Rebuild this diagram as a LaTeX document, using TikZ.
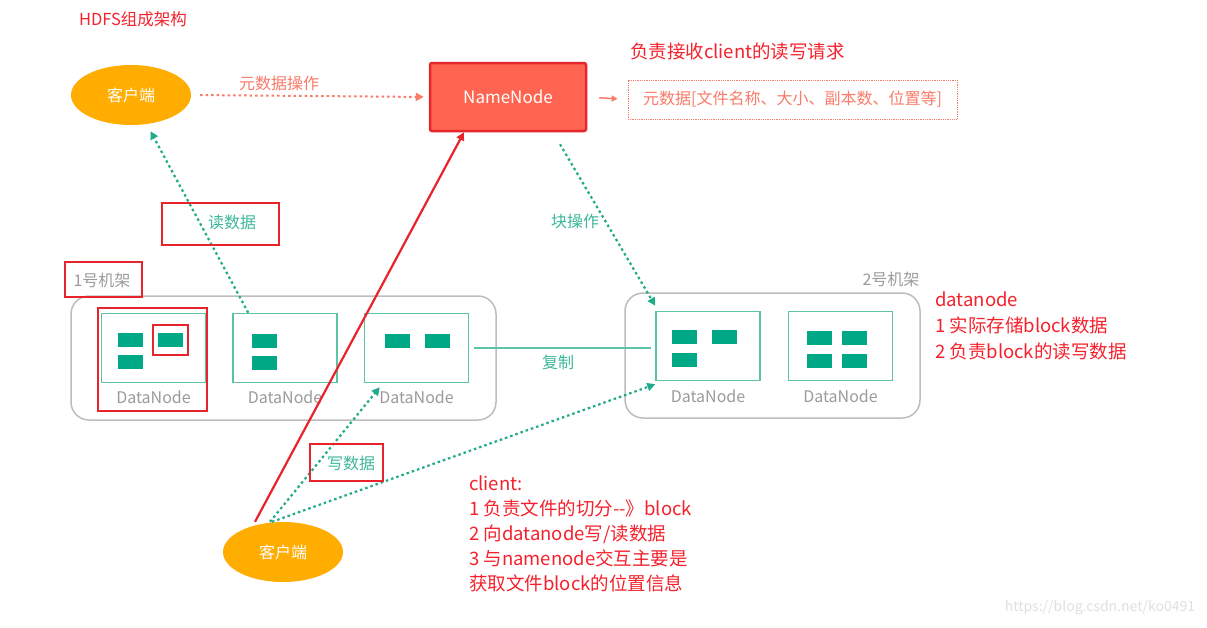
\documentclass[tikz,border=0pt]{standalone}
\usepackage{fontspec}
\setmainfont{Noto Sans CJK SC}
\usepackage{xcolor}
\usetikzlibrary{positioning,shapes.geometric,arrows.meta,calc}
\definecolor{clientorange}{HTML}{FFAD00}
\definecolor{nnfill}{HTML}{FF6450}
\definecolor{nnborder}{HTML}{E5262B}
\definecolor{salmon}{HTML}{F97B69}
\definecolor{flowteal}{HTML}{1FAA89}
\definecolor{labelteal}{HTML}{3DB79A}
\definecolor{dnline}{HTML}{5CC3A6}
\definecolor{blockfill}{HTML}{00A886}
\definecolor{markred}{HTML}{E8232B}
\definecolor{notered}{HTML}{F5222D}
\definecolor{rackgray}{HTML}{BDBDBD}
\definecolor{labelgray}{HTML}{9B9B9B}
\tikzset{
  >={Triangle[length=8pt,width=8pt]},
  client/.style={ellipse, fill=clientorange, text=white, minimum width=120pt, minimum height=60pt, inner sep=0pt},
  namenode/.style={rectangle, fill=nnfill, draw=nnborder, line width=2.5pt, rounded corners=2pt, text=white, minimum width=156pt, minimum height=68pt, font=\fontsize{17}{20}\selectfont},
  rack/.style={rectangle, draw=rackgray, line width=1.5pt, rounded corners=18pt},
  datanode/.style={rectangle, draw=dnline, line width=1.5pt, minimum width=104pt, minimum height=69pt},
  blk/.style={rectangle, fill=blockfill, minimum width=25pt, minimum height=14pt, inner sep=0pt},
  dnlabel/.style={text=labelgray, inner sep=0pt},
  redmark/.style={rectangle, draw=markred, line width=2.5pt},
  flowlabel/.style={text=labelteal},
  note/.style={text=notered, align=left, inner sep=0pt, font=\fontsize{18.5}{25}\selectfont},
  dotflow/.style={draw=flowteal, line width=2.2pt, dash pattern=on 2.5pt off 3pt, ->},
}
\begin{document}
\begin{tikzpicture}[x=1pt, y=-1pt]
  \tikzset{every node/.style={font=\fontsize{16}{19}\selectfont}}
  \useasboundingbox[fill=white] (0,0) rectangle (1207,627);

  \node[text=notered, font=\fontsize{16.5}{19}\selectfont] (title) at (133,19) {HDFS组成架构};

  % client, namenode, metadata
  \node[client] (clientTop) at (131,95) {客户端};
  \node[namenode] (nameNode) at (508,97) {NameNode};
  \node[rectangle, draw=salmon, densely dotted, thick, text=salmon, minimum width=329pt, minimum height=39pt] (metaBox) at (792.5,99.5) {元数据[文件名称、大小、副本数、位置等]};
  \node[note, anchor=west] (nnNote) at (630,51) {负责接收client的读写请求};

  \path[draw=salmon, line width=2pt, dash pattern=on 2.5pt off 3pt, ->, shorten <=9pt, shorten >=5pt] (clientTop.east) -- node[pos=0.37, above=1pt, text=salmon] (metaOpLabel) {元数据操作} (nameNode.west);
  \path[draw=salmon, line width=1.5pt, -{Triangle[length=6pt,width=6pt]}, shorten <=12pt, shorten >=10pt] (nameNode.east) -- (metaBox.west);

  % rack 1
  \node[rack, minimum width=425pt, minimum height=124pt] (rack1) at (283.5,358) {};
  \node[redmark, minimum width=77pt, minimum height=35pt] (rack1Box) at (103.5,279.5) {};
  \node[text=labelgray] (rack1Label) at (102,280) {1号机架};
  \node[datanode] (dn11) at (153.5,348) {};
  \node[datanode, right=26pt of dn11] (dn12) {};
  \node[datanode, right=26pt of dn12] (dn13) {};
  \node[dnlabel, below=7pt of dn11] (dn11Label) {DataNode};
  \node[dnlabel, below=7pt of dn12] (dn12Label) {DataNode};
  \node[dnlabel, below=7pt of dn13] (dn13Label) {DataNode};
  \node[blk] (blk111) at ($(dn11)+(-23,-8)$) {};
  \node[blk] (blk112) at ($(dn11)+(16.5,-8)$) {};
  \node[blk] (blk113) at ($(dn11)+(-23,14)$) {};
  \node[blk] (blk121) at ($(dn12)+(-21,-7)$) {};
  \node[blk] (blk122) at ($(dn12)+(-21,15)$) {};
  \node[blk] (blk131) at ($(dn13)+(-19.5,-7)$) {};
  \node[blk] (blk132) at ($(dn13)+(20.5,-7)$) {};
  \node[redmark, minimum width=109pt, minimum height=103pt] (dn11Box) at (152.5,359.5) {};
  \node[redmark, minimum width=35pt, minimum height=30pt] (blk112Box) at (170.5,340) {};

  % rack 2
  \node[rack, minimum width=295pt, minimum height=125pt] (rack2) at (772.5,355.5) {};
  \node[text=labelgray] (rack2Label) at (891,279) {2号机架};
  \node[datanode] (dn21) at (708,346) {};
  \node[datanode, right=27pt of dn21] (dn22) {};
  \node[dnlabel, below=8pt of dn21] (dn21Label) {DataNode};
  \node[dnlabel, below=8pt of dn22] (dn22Label) {DataNode};
  \node[blk] (blk211) at ($(dn21)+(-23.5,-9)$) {};
  \node[blk] (blk212) at ($(dn21)+(16.5,-9)$) {};
  \node[blk] (blk213) at ($(dn21)+(-23.5,14)$) {};
  \node[blk] (blk221) at ($(dn22)+(-21.5,-8)$) {};
  \node[blk] (blk222) at ($(dn22)+(14,-8)$) {};
  \node[blk] (blk223) at ($(dn22)+(-21.5,15)$) {};
  \node[blk] (blk224) at ($(dn22)+(14,15)$) {};
  \node[note, anchor=north west, font=\fontsize{18.5}{26}\selectfont] (dnNote) at (935,292) {datanode\\1 实际存储block数据\\2 负责block的读写数据};

  % replication, block ops, read
  \path[draw=dnline, line width=1.5pt, shorten <=5pt, shorten >=4pt] (dn13.east) -- (dn13.east -| dn21.west);
  \node[flowlabel] (copyLabel) at (558,362) {复制};
  \path[dotflow] ([xshift=52pt,yshift=-12pt]nameNode.south) -- ([yshift=5pt]dn21.north west);
  \node[flowlabel] (blockOpLabel) at (575,221) {块操作};
  \path[dotflow, shorten >=8pt] ([xshift=16pt]dn12.north west) -- (clientTop);
  \node[redmark, minimum width=117pt, minimum height=42pt] (readBox) at (220.5,224) {};
  \node[flowlabel] (readLabel) at (232,222) {读数据};

  % client writes
  \node[client] (clientBot) at (283,552) {客户端};
  \path[draw=markred, line width=2.2pt, ->] ([xshift=-28pt]clientBot.north) -- ([xshift=-44pt]nameNode.south);
  \path[dotflow] ([xshift=-13pt]clientBot.north) -- ([xshift=16pt,yshift=-4pt]dn13.south west);
  \path[dotflow] ([xshift=-11pt]clientBot.north) -- ([yshift=-3pt]dn21.south west);
  \node[redmark, minimum width=73pt, minimum height=37pt] (writeBox) at (346.5,462.5) {};
  \node[flowlabel] (writeLabel) at (351,463) {写数据};
  \node[note, anchor=north west] (clientNote) at (469,476) {client:\\1 负责文件的切分-{}-》block\\2 向datanode写/读数据\\3 与namenode交互主要是\\获取文件block的位置信息};

  \node[text=black!12, font=\fontsize{14}{16}\selectfont] (watermark) at (1100,608) {https://blog.csdn.net/ko0491};
\end{tikzpicture}
\end{document}
